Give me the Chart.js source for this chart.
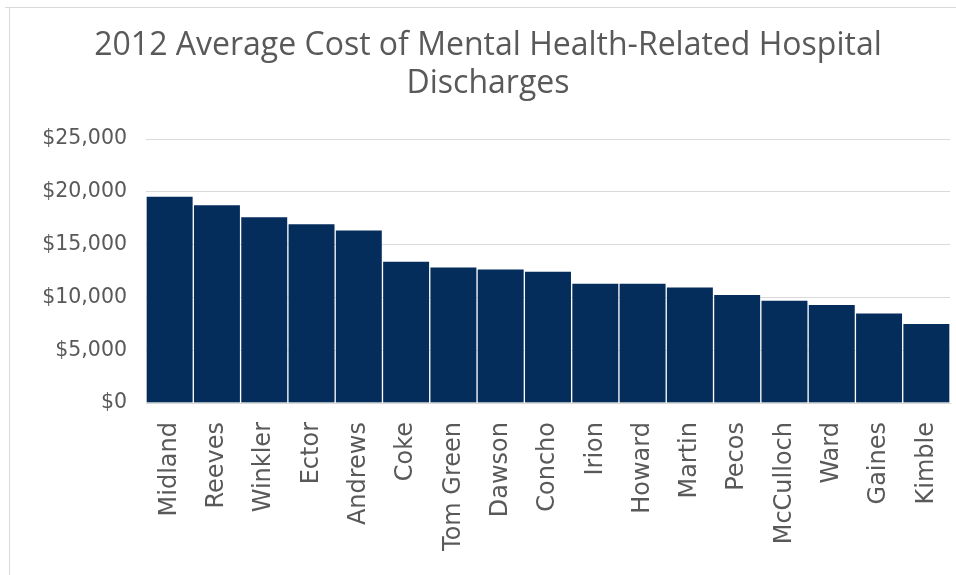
<!DOCTYPE html>
<html>
<head>
<meta charset="utf-8">
<script src="https://cdn.jsdelivr.net/npm/chart.js@4/dist/chart.umd.min.js"></script>
<style>
  html, body { margin: 0; padding: 0; background: #ffffff; }
  #wrap { width: 956px; height: 575px; position: relative; }
</style>
</head>
<body>
<div id="wrap"><canvas id="chart" width="956" height="575"></canvas></div>
<script>
// Counties, ordered by average cost
const counties = ['Midland', 'Reeves', 'Winkler', 'Ector', 'Andrews', 'Coke', 'Tom Green', 'Dawson',
  'Concho', 'Irion', 'Howard', 'Martin', 'Pecos', 'McCulloch', 'Ward', 'Gaines', 'Kimble'];

// Average cost per discharge, USD (2012)
const avgCost = [19600, 18800, 17650, 17000, 16400, 13450, 12900, 12700,
  12500, 11350, 11350, 11000, 10300, 9750, 9350, 8550, 7550];

// Value axis range
const yMin = 0;
const yMax = 25000;
const yStep = 5000;

const titleLines = ['2012 Average Cost of Mental Health-Related Hospital', 'Discharges'];

// Light frame around the chart object
const framePlugin = {
  id: 'frame',
  beforeDraw(chart) {
    const ctx = chart.ctx;
    ctx.save();
    ctx.fillStyle = '#ffffff';
    ctx.fillRect(0, 0, chart.width, chart.height);
    ctx.strokeStyle = '#d9d9d9';
    ctx.lineWidth = 1;
    ctx.beginPath();
    ctx.moveTo(5, 7.5);
    ctx.lineTo(chart.width + 2, 7.5);
    ctx.moveTo(9.5, 7.5);
    ctx.lineTo(9.5, chart.height + 2);
    ctx.stroke();
    ctx.restore();
  }
};

const money = v => '$' + Number(v).toLocaleString('en-US');

new Chart(document.getElementById('chart'), {
  type: 'bar',
  data: {
    labels: counties,
    datasets: [{
      data: avgCost,
      backgroundColor: '#052d5c',
      borderColor: 'rgba(255,255,255,0.22)',
      borderWidth: 1,
      categoryPercentage: 1.0,
      barPercentage: 1.0
    }]
  },
  options: {
    responsive: false,
    animation: false,
    layout: { padding: { left: 26, right: 6, top: 0, bottom: 0 } },
    plugins: {
      legend: { display: false },
      tooltip: { enabled: false },
      title: {
        display: true,
        text: titleLines,
        color: '#595959',
        font: { family: "'Open Sans', sans-serif", size: 32, weight: 'normal', lineHeight: '38px' },
        padding: { top: 27, bottom: 36 }
      }
    },
    scales: {
      x: {
        grid: { display: false, drawTicks: false },
        border: { display: true, color: '#d9d9d9', width: 1 },
        ticks: {
          color: '#595959',
          font: { family: "'DejaVu Sans', sans-serif", size: 24 },
          maxRotation: 90,
          minRotation: 90,
          autoSkip: false,
          padding: 19
        },
        afterFit(scale) {
          scale.height = 172;
          scale.paddingLeft = 0;
          scale.paddingRight = 0;
        }
      },
      y: {
        min: yMin,
        max: yMax,
        grid: { color: '#d9d9d9', lineWidth: 1, drawTicks: false },
        border: { display: false },
        ticks: {
          stepSize: yStep,
          color: '#595959',
          font: { family: "'DejaVu Sans', sans-serif", size: 20.5 },
          padding: 19,
          callback: money
        },
        afterFit(scale) { scale.width = 120; }
      }
    }
  },
  plugins: [framePlugin]
});
</script>
</body>
</html>
